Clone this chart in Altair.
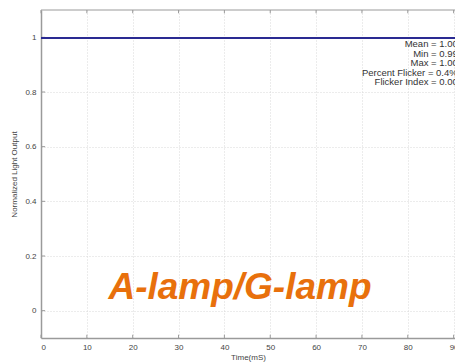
import altair as alt
import pandas as pd

# line data (Time in mS, normalized output)
time_ms = [0, 10, 20, 30, 40, 50, 60, 70, 80, 90, 100]
light = [0.998, 0.998, 0.998, 0.998, 0.998, 0.998, 0.998, 0.998, 0.998, 0.998, 0.998]

x_ticks = [0, 10, 20, 30, 40, 50, 60, 70, 80, 90]
y_ticks = [0, 0.2, 0.4, 0.6, 0.8, 1.0]

stats_text = ["Mean = 1.00", "Min = 0.99", "Max = 1.00", "Percent Flicker = 0.4%", "Flicker Index = 0.00"]
stats_y = [0.975, 0.94, 0.905, 0.87, 0.835]

label_text = ["A-lamp/G-lamp"]

XMIN, XMAX = 0, 90.3
YMIN, YMAX = -0.1, 1.1

line_df = pd.DataFrame({"t": time_ms, "v": light})
stats_df = pd.DataFrame({"s": stats_text, "y": stats_y, "x": [90.9] * len(stats_text)})
xt_df = pd.DataFrame({"x": x_ticks, "y0": [YMIN] * len(x_ticks), "y1": [YMIN + 0.012] * len(x_ticks),
                      "yt0": [YMAX] * len(x_ticks), "yt1": [YMAX - 0.012] * len(x_ticks)})
yt_df = pd.DataFrame({"y": y_ticks, "x0": [XMIN] * len(y_ticks), "x1": [XMIN + 0.9] * len(y_ticks)})
lab_df = pd.DataFrame({"s": label_text, "x": [43.4], "y": [0.082]})

xs = alt.Scale(domain=[XMIN, XMAX], nice=False, zero=False)
ys = alt.Scale(domain=[YMIN, YMAX], nice=False, zero=False)

axis_common = dict(
    grid=True, gridColor="#d9d9d9", gridDash=[1, 2], gridWidth=1,
    domainColor="#9a9a9a", domainWidth=1.5, tickSize=0,
    labelFont="Liberation Sans", labelFontSize=8, labelColor="#444444", labelPadding=5,
    titleFont="Liberation Sans", titleFontSize=8, titleColor="#444444", titleFontWeight="normal",
)

line = alt.Chart(line_df).mark_line(color="#2a2a92", strokeWidth=2, clip=True).encode(
    x=alt.X("t:Q", scale=xs, axis=alt.Axis(values=x_ticks, title="Time(mS)", titlePadding=2, **axis_common)),
    y=alt.Y("v:Q", scale=ys, axis=alt.Axis(values=y_ticks, title="Normalized Light Output", titlePadding=6,
                                           labelExpr="datum.value == 0 ? '0' : datum.value == 1 ? '1' : format(datum.value, '.1f')",
                                           **axis_common)),
)

xticks_b = alt.Chart(xt_df).mark_rule(color="#9a9a9a", strokeWidth=1).encode(
    x=alt.X("x:Q", scale=xs), y=alt.Y("y0:Q", scale=ys), y2="y1:Q")
xticks_t = alt.Chart(xt_df).mark_rule(color="#9a9a9a", strokeWidth=1).encode(
    x=alt.X("x:Q", scale=xs), y=alt.Y("yt0:Q", scale=ys), y2="yt1:Q")
yticks = alt.Chart(yt_df).mark_rule(color="#9a9a9a", strokeWidth=1).encode(
    y=alt.Y("y:Q", scale=ys), x=alt.X("x0:Q", scale=xs), x2="x1:Q")
top_border = alt.Chart(xt_df.head(1)).mark_rule(color="#9a9a9a", strokeWidth=1).encode(
    y=alt.Y("yt0:Q", scale=ys), x=alt.value(0), x2=alt.value(420))

stats = alt.Chart(stats_df).mark_text(
    align="right", baseline="middle", font="Liberation Sans", fontSize=9.5, color="#333333", clip=True
).encode(x=alt.X("x:Q", scale=xs), y=alt.Y("y:Q", scale=ys), text="s:N")

label = alt.Chart(lab_df).mark_text(
    align="center", baseline="middle", font="Liberation Sans", fontSize=37, fontWeight="bold",
    fontStyle="italic", color="#E8700C"
).encode(x=alt.X("x:Q", scale=xs), y=alt.Y("y:Q", scale=ys), text="s:N")

chart = alt.layer(xticks_b, xticks_t, yticks, top_border, line, stats, label).properties(
    width=414, height=328,
    padding={"left": 41, "top": 10, "right": 0, "bottom": 26},
    autosize=alt.AutoSizeParams(type="none"),
    background="white",
).configure_view(stroke=None)

chart.save("out.html", embed_options={"renderer": "svg", "actions": False})
